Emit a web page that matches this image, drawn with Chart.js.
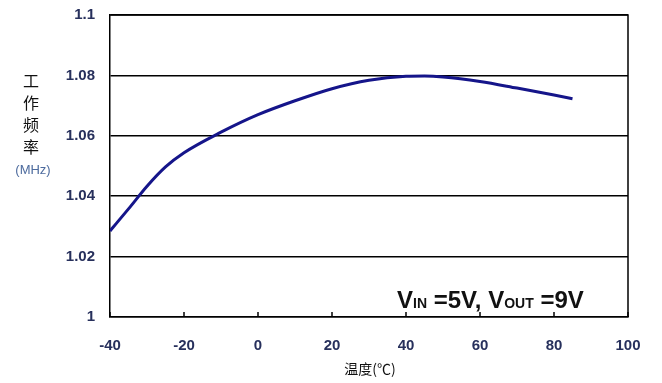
<!DOCTYPE html>
<html>
<head>
<meta charset="utf-8">
<script src="https://cdn.jsdelivr.net/npm/chart.js@4/dist/chart.umd.min.js"></script>
<style>
  html, body { margin: 0; padding: 0; background: #fff; }
  #wrap { width: 662px; height: 383px; position: relative; }
</style>
</head>
<body>
<div id="wrap"><canvas id="freqChart"></canvas></div>
<script>
// 数据：温度 (℃) 与 工作频率 (MHz)
const temps = [-40, -35, -30, -25, -20, -10, 0, 10, 20, 30, 40, 45, 50, 60, 70, 80, 85];
const freqs = [1.0285, 1.0358, 1.0433, 1.0497, 1.0544, 1.0612, 1.067, 1.0716, 1.0756, 1.0784, 1.0797, 1.0798, 1.0795, 1.078, 1.0758, 1.0735, 1.0723];
const xTicks = [-40, -20, 0, 20, 40, 60, 80, 100];
const yTicks = [1, 1.02, 1.04, 1.06, 1.08, 1.1];

const tickColor = "#27305c";
const font = "'Liberation Sans', Arial, sans-serif";

// 标题、边框、内刻度和 VIN/VOUT 标注
const extras = {
  id: "extras",
  afterDraw(chart) {
    const ctx = chart.ctx;
    const a = chart.chartArea;
    const xs = chart.scales.x;
    ctx.save();

    // 右边框 + 上边框
    ctx.strokeStyle = "#000";
    ctx.lineWidth = 1.5;
    ctx.beginPath();
    ctx.moveTo(a.left, a.top);
    ctx.lineTo(a.right, a.top);
    ctx.lineTo(a.right, a.bottom);
    ctx.stroke();

    // 底部内刻度
    xTicks.forEach((t) => {
      const px = xs.getPixelForValue(t);
      ctx.beginPath();
      ctx.moveTo(px, a.bottom);
      ctx.lineTo(px, a.bottom - 5);
      ctx.stroke();
    });

    // y 轴标题，竖排
    ctx.fillStyle = "#111";
    ctx.font = "16px 'Noto Sans CJK SC', sans-serif";
    ctx.textAlign = "center";
    ctx.textBaseline = "middle";
    ["工", "作", "频", "率"].forEach((c, i) => ctx.fillText(c, 31, 81 + i * 22));
    ctx.fillStyle = "#4d6b9e";
    ctx.font = "13px " + font;
    ctx.fillText("(MHz)", 33, 170);

    // x 轴标题
    ctx.fillStyle = "#111";
    ctx.font = "14px 'Noto Sans CJK SC', sans-serif";
    ctx.fillText("温度(℃)", 370, 369);

    // VIN =5V, VOUT =9V
    const parts = [
      ["V", 24],
      ["IN", 14],
      [" =5V, V", 24],
      ["OUT", 14],
      [" =9V", 24],
    ];
    let x = 397;
    const base = 308;
    ctx.textAlign = "left";
    ctx.textBaseline = "alphabetic";
    ctx.fillStyle = "#111";
    parts.forEach(([s, size]) => {
      ctx.font = "bold " + size + "px " + font;
      ctx.fillText(s, x, base);
      x += ctx.measureText(s).width;
    });

    ctx.restore();
  },
};

new Chart(document.getElementById("freqChart"), {
  type: "line",
  data: {
    datasets: [
      {
        data: temps.map((t, i) => ({ x: t, y: freqs[i] })),
        borderColor: "#15158a",
        borderWidth: 3,
        pointRadius: 0,
        fill: false,
        cubicInterpolationMode: "monotone",
      },
    ],
  },
  options: {
    responsive: true,
    maintainAspectRatio: false,
    animation: false,
    layout: { padding: { top: 15, right: 34, left: 0, bottom: 0 } },
    plugins: { legend: { display: false }, tooltip: { enabled: false } },
    scales: {
      x: {
        type: "linear",
        min: -40,
        max: 100,
        afterBuildTicks: (s) => { s.ticks = xTicks.map((v) => ({ value: v })); },
        afterFit: (s) => { s.height = 66; s.paddingLeft = 0; s.paddingRight = 0; },
        grid: { display: false, drawTicks: false },
        border: { display: true, color: "#000", width: 1.5 },
        ticks: {
          padding: 20,
          color: tickColor,
          font: { family: font, size: 15, weight: "bold" },
          maxRotation: 0,
        },
      },
      y: {
        min: 1,
        max: 1.1,
        afterBuildTicks: (s) => { s.ticks = yTicks.map((v) => ({ value: v })); },
        afterFit: (s) => { s.width = 110; s.paddingTop = 0; s.paddingBottom = 0; },
        grid: { color: "#000", lineWidth: 1.5, drawTicks: false },
        border: { display: true, color: "#000", width: 1.5 },
        ticks: {
          padding: 15,
          color: tickColor,
          font: { family: font, size: 15, weight: "bold" },
          callback: (v) => String(Math.round(v * 100) / 100),
        },
      },
    },
  },
  plugins: [extras],
});
</script>
</body>
</html>
